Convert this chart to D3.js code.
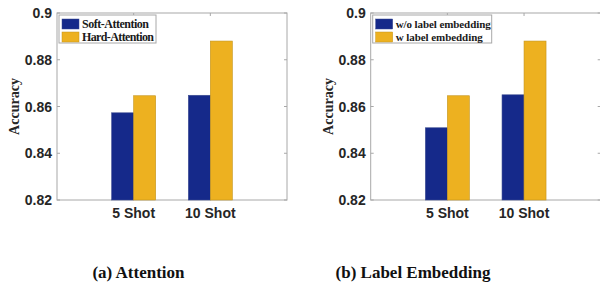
<!DOCTYPE html>
<html>
<head>
<meta charset="utf-8">
<script src="https://cdn.jsdelivr.net/npm/d3@7"></script>
<style>
  body { margin: 0; background: #fff; }
  svg { display: block; }
</style>
</head>
<body>
<svg id="chart" width="600" height="283"></svg>
<script>
// data
var categories = ["5 Shot", "10 Shot"];
var yTicks = [0.82, 0.84, 0.86, 0.88, 0.9];

var attnNames = ["Soft-Attention", "Hard-Attention"];
var attnSoft = [0.8573, 0.8648];
var attnHard = [0.8646, 0.888];

var embNames = ["w/o label embedding", "w label embedding"];
var embWithout = [0.8509, 0.865];
var embWith = [0.8646, 0.888];

var captions = ["(a) Attention", "(b) Label Embedding"];

var colors = ["#15298a", "#edb120"];
var edges = ["#3a4a90", "#c4941c"];

var svg = d3.select("#chart");

function panel(left, seriesNames, seriesA, seriesB, caption, legendW, textW, legendFs, capX) {
  var w = 230, top = 13, bottom = 200;
  var g = svg.append("g");

  var x = d3.scaleLinear().domain([0, 3]).range([left, left + w]);
  var y = d3.scaleLinear().domain([0.82, 0.9]).range([bottom, top]);
  var barW = 22;

  // frame
  g.append("rect")
    .attr("x", left).attr("y", top)
    .attr("width", w).attr("height", bottom - top)
    .attr("fill", "none").attr("stroke", "#a8a8a8").attr("stroke-width", 1);

  // inward ticks on all sides
  yTicks.forEach(function (t) {
    g.append("line").attr("x1", left).attr("x2", left + 3)
      .attr("y1", y(t)).attr("y2", y(t)).attr("stroke", "#a8a8a8");
    g.append("line").attr("x1", left + w).attr("x2", left + w - 3)
      .attr("y1", y(t)).attr("y2", y(t)).attr("stroke", "#a8a8a8");
  });
  categories.forEach(function (c, i) {
    g.append("line").attr("x1", x(i + 1)).attr("x2", x(i + 1))
      .attr("y1", top).attr("y2", top + 3).attr("stroke", "#a8a8a8");
    g.append("line").attr("x1", x(i + 1)).attr("x2", x(i + 1))
      .attr("y1", bottom).attr("y2", bottom - 3).attr("stroke", "#a8a8a8");
  });

  // bars
  [seriesA, seriesB].forEach(function (vals, s) {
    g.selectAll(null).data(vals).enter().append("rect")
      .attr("x", function (d, i) { return x(i + 1) - barW + s * barW; })
      .attr("y", function (d) { return y(d); })
      .attr("width", barW)
      .attr("height", function (d) { return bottom - y(d); })
      .attr("fill", colors[s])
      .attr("stroke", edges[s]).attr("stroke-width", 0.6);
  });

  // tick labels
  g.selectAll(null).data(yTicks).enter().append("text")
    .attr("x", left - 5).attr("y", function (d) { return y(d) + 5; })
    .attr("text-anchor", "end")
    .attr("font-family", "Liberation Sans, Arial, sans-serif")
    .attr("font-weight", "bold").attr("font-size", 14)
    .attr("fill", "#262626")
    .text(function (d) { return d === 0.9 ? "0.9" : d3.format(".2f")(d); });

  g.selectAll(null).data(categories).enter().append("text")
    .attr("x", function (d, i) { return x(i + 1); })
    .attr("y", 218)
    .attr("text-anchor", "middle")
    .attr("font-family", "Liberation Sans, Arial, sans-serif")
    .attr("font-weight", "bold").attr("font-size", 14)
    .attr("fill", "#262626")
    .text(function (d) { return d; });

  // y label
  g.append("text")
    .attr("transform", "translate(" + (left - 38) + "," + ((top + bottom) / 2) + ") rotate(-90)")
    .attr("text-anchor", "middle")
    .attr("font-family", "Liberation Serif, Times New Roman, serif")
    .attr("font-weight", "bold").attr("font-size", 14)
    .attr("fill", "#262626")
    .text("Accuracy");

  // legend
  var lg = g.append("g").attr("transform", "translate(" + (left + 2) + ",15)");
  lg.append("rect").attr("width", legendW).attr("height", 28)
    .attr("fill", "#fff").attr("stroke", "#a8a8a8");
  seriesNames.forEach(function (n, i) {
    lg.append("rect").attr("x", 3).attr("y", 4 + i * 13)
      .attr("width", 17).attr("height", 10)
      .attr("fill", colors[i]).attr("stroke", edges[i]).attr("stroke-width", 0.5);
    lg.append("text").attr("x", 23).attr("y", 12.5 + i * 13)
      .attr("font-family", "Liberation Serif, Times New Roman, serif")
      .attr("font-weight", "bold").attr("font-size", legendFs)
      .attr("fill", "#1a1a1a")
      .attr("textLength", textW[i]).attr("lengthAdjust", "spacing")
      .text(n);
  });

  // caption
  svg.append("text")
    .attr("x", capX).attr("y", 278)
    .attr("text-anchor", "middle")
    .attr("font-family", "Liberation Serif, Times New Roman, serif")
    .attr("font-weight", "bold").attr("font-size", 17)
    .attr("fill", "#111")
    .text(caption);
}

panel(57, attnNames, attnSoft, attnHard, captions[0], 97, [67, 72], 12, 138.5);
panel(370.7, embNames, embWithout, embWith, captions[1], 119, [95, 87], 11, 413);
</script>
</body>
</html>
